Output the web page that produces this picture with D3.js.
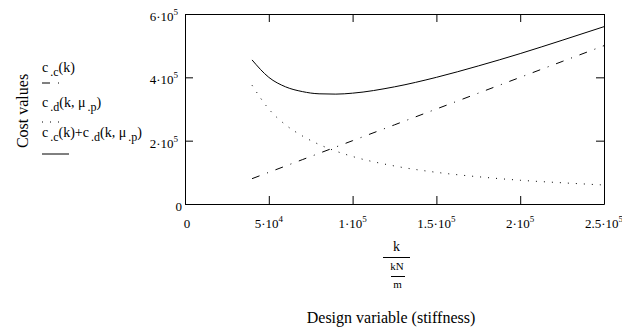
<!DOCTYPE html>
<meta charset="utf-8">
<script src="https://d3js.org/d3.v7.min.js"></script>
<style>
  body { margin: 0; background: #fff; }
  text { font-family: "Liberation Serif", "Times New Roman", serif; fill: #000; }
</style>
<div id="vis"></div>
<script type="text/javascript">

// stiffness k (kN/m) sample points
var kValues = [4e4, 5e4, 6e4, 7e4, 8e4, 9e4, 1e5, 1.25e5, 1.5e5, 1.75e5, 2e5, 2.25e5, 2.5e5];
// construction cost c.c(k)
var ccValues = [0.8e5, 1.0e5, 1.2e5, 1.4e5, 1.6e5, 1.8e5, 2.0e5, 2.5e5, 3.0e5, 3.5e5, 4.0e5, 4.5e5, 5.0e5];
// damage cost c.d(k, mu.p)
var cdValues = [3.75e5, 3.0e5, 2.5e5, 2.15e5, 1.88e5, 1.67e5, 1.5e5, 1.2e5, 1.0e5, 0.86e5, 0.75e5, 0.67e5, 0.6e5];
// total cost
var totalValues = [4.55e5, 4.0e5, 3.7e5, 3.55e5, 3.48e5, 3.47e5, 3.5e5, 3.7e5, 4.0e5, 4.36e5, 4.75e5, 5.17e5, 5.6e5];

var xTicks = [0, 5e4, 1e5, 1.5e5, 2e5, 2.5e5];
var xTickLabels = ["0", "5·10^4", "1·10^5", "1.5·10^5", "2·10^5", "2.5·10^5"];
var yTicks = [0, 2e5, 4e5, 6e5];
var yTickLabels = ["0", "2·10^5", "4·10^5", "6·10^5"];

var legendLabels = [
  [["c", 0], [".c", 1], ["(k)", 0]],
  [["c", 0], [".d", 1], ["(k, μ", 0], [".p", 1], [")", 0]],
  [["c", 0], [".c", 1], ["(k)+c", 0], [".d", 1], ["(k, μ", 0], [".p", 1], [")", 0]]
];

var margin = {top: 14, right: 18, bottom: 129, left: 185},
    width = 622 - margin.left - margin.right,
    height = 333 - margin.top - margin.bottom;

var root = d3.select("#vis")
  .append("svg")
    .attr("width", 622)
    .attr("height", 333);

var svg = root.append("g")
    .attr("transform", "translate(" + margin.left + "," + margin.top + ")");

var x = d3.scaleLinear().domain([0, 2.5e5]).range([0, width]);
var y = d3.scaleLinear().domain([0, 6e5]).range([height, 0]);

function styleAxis(g) {
  g.selectAll("path").attr("stroke", "#000").attr("stroke-width", 1);
  g.selectAll("line").attr("stroke", "#000").attr("stroke-width", 1);
}

// ticks point inward on all four sides
svg.append("g")
  .attr("transform", "translate(0," + height + ")")
  .call(d3.axisBottom(x).tickValues(xTicks).tickSize(-8).tickSizeOuter(0).tickFormat(""))
  .call(styleAxis);
svg.append("g")
  .call(d3.axisTop(x).tickValues(xTicks).tickSize(-8).tickSizeOuter(0).tickFormat(""))
  .call(styleAxis);
svg.append("g")
  .call(d3.axisLeft(y).tickValues(yTicks).tickSize(-8).tickSizeOuter(0).tickFormat(""))
  .call(styleAxis);
svg.append("g")
  .attr("transform", "translate(" + width + ",0)")
  .call(d3.axisRight(y).tickValues(yTicks).tickSize(-8).tickSizeOuter(0).tickFormat(""))
  .call(styleAxis);

function powerLabel(sel, label) {
  var parts = label.split("^");
  sel.append("tspan").text(parts[0]);
  if (parts.length > 1) {
    sel.append("tspan").attr("dy", -6).attr("font-size", 9).text(parts[1]);
  }
}

svg.selectAll(".xlab").data(xTicks)
  .enter().append("text")
    .attr("class", "xlab")
    .attr("x", (d, i) => x(d) + (i === 0 ? 2 : 0))
    .attr("y", height + 24)
    .attr("text-anchor", "middle")
    .attr("font-size", 13)
    .each(function(d, i) { powerLabel(d3.select(this), xTickLabels[i]); });

svg.selectAll(".ylab").data(yTicks)
  .enter().append("text")
    .attr("class", "ylab")
    .attr("x", d => d === 0 ? -3 : -7)
    .attr("y", d => y(d) + 7)
    .attr("text-anchor", "end")
    .attr("font-size", 13)
    .each(function(d, i) { powerLabel(d3.select(this), yTickLabels[i]); });

// curves
var series = [
  {values: ccValues, dash: "8,8,1,8"},
  {values: cdValues, dash: "1,7"},
  {values: totalValues, dash: null}
];

series.forEach(s => {
  svg.append("path")
    .datum(kValues.map((k, i) => [k, s.values[i]]))
    .attr("fill", "none")
    .attr("stroke", "#000")
    .attr("stroke-width", 1)
    .attr("stroke-dasharray", s.dash)
    .attr("d", d3.line()
      .x(d => x(d[0]))
      .y(d => y(d[1]))
      .curve(d3.curveMonotoneX));
});

// axis titles
root.append("text")
  .attr("transform", "translate(28,111) rotate(-90)")
  .attr("text-anchor", "middle")
  .attr("font-size", 16)
  .text("Cost values");

root.append("text")
  .attr("x", 391)
  .attr("y", 323)
  .attr("text-anchor", "middle")
  .attr("font-size", 16)
  .text("Design variable (stiffness)");

// k / (kN/m)
var frac = root.append("g");
frac.append("text").attr("x", 396.5).attr("y", 251).attr("text-anchor", "middle").attr("font-size", 14).text("k");
frac.append("line").attr("x1", 383).attr("x2", 410).attr("y1", 257.5).attr("y2", 257.5).attr("stroke", "#000");
frac.append("text").attr("x", 397).attr("y", 270).attr("text-anchor", "middle").attr("font-size", 11).text("kN");
frac.append("text").attr("x", 397.5).attr("y", 288).attr("text-anchor", "middle").attr("font-size", 11).text("m");
frac.append("line").attr("x1", 391).attr("x2", 405).attr("y1", 276.5).attr("y2", 276.5).attr("stroke", "#000");

// legend
var legendY = [72, 107, 137];
var legendLineY = [83, 122, 154];
var legendDash = ["8,8,1,8", "1,7", null];
var legendLen = [18, 24, 27];

legendLabels.forEach((parts, i) => {
  var t = root.append("text")
    .attr("x", 42)
    .attr("y", legendY[i])
    .attr("font-size", 14);
  var sub = 0;
  parts.forEach(p => {
    var dy = p[1] ? (sub ? 0 : 4) : (sub ? -4 : 0);
    sub = p[1];
    t.append("tspan")
      .attr("dx", p[1] ? 2 : 0)
      .attr("dy", dy)
      .attr("font-size", p[1] ? 12 : 14)
      .text(p[0]);
  });
  root.append("line")
    .attr("x1", 42).attr("x2", 42 + legendLen[i])
    .attr("y1", legendLineY[i]).attr("y2", legendLineY[i])
    .attr("stroke", "#000")
    .attr("stroke-dasharray", legendDash[i]);
});

</script>
